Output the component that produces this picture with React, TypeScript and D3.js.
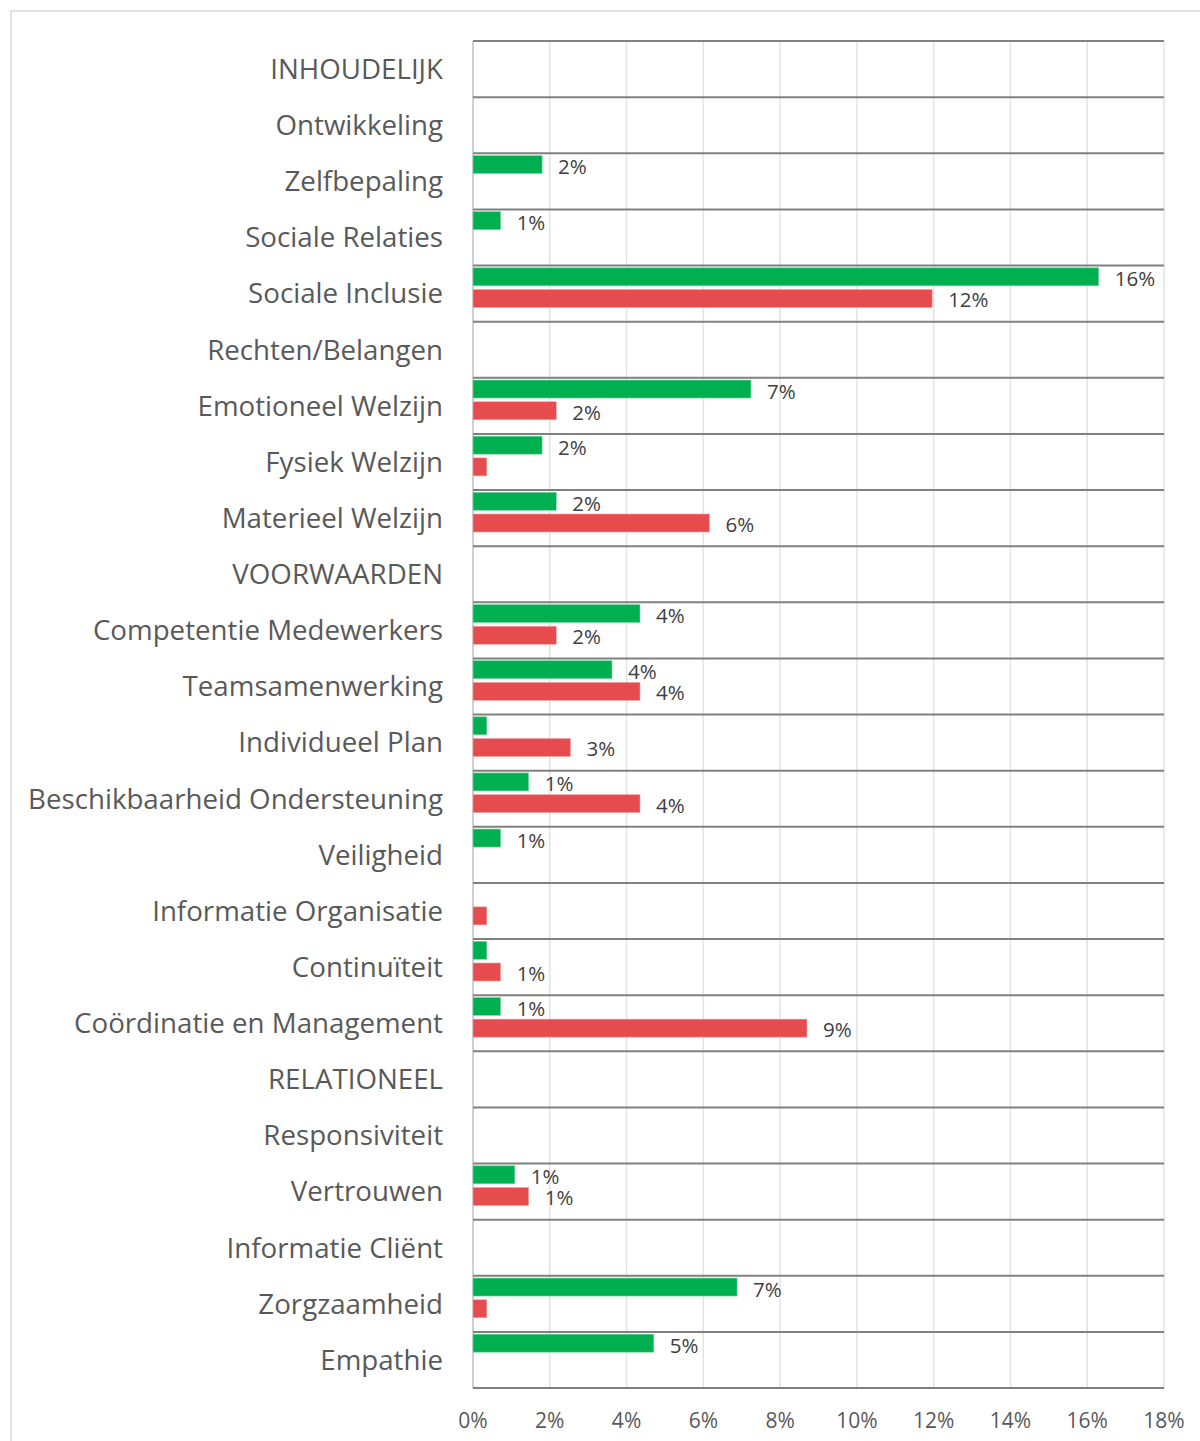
import React from "react";
import * as d3 from "d3";

const categories = [
  "INHOUDELIJK",
  "Ontwikkeling",
  "Zelfbepaling",
  "Sociale Relaties",
  "Sociale Inclusie",
  "Rechten/Belangen",
  "Emotioneel Welzijn",
  "Fysiek Welzijn",
  "Materieel Welzijn",
  "VOORWAARDEN",
  "Competentie Medewerkers",
  "Teamsamenwerking",
  "Individueel Plan",
  "Beschikbaarheid Ondersteuning",
  "Veiligheid",
  "Informatie Organisatie",
  "Continuïteit",
  "Coördinatie en Management",
  "RELATIONEEL",
  "Responsiviteit",
  "Vertrouwen",
  "Informatie Cliënt",
  "Zorgzaamheid",
  "Empathie",
];

// values in percent; null = no bar
const greenValues: (number | null)[] = [
  null, null, 1.8, 0.72, 16.3, null, 7.24, 1.8, 2.17, null,
  4.35, 3.62, 0.36, 1.45, 0.72, null, 0.36, 0.72, null, null,
  1.09, null, 6.88, 4.71,
];
const redValues: (number | null)[] = [
  null, null, null, null, 11.96, null, 2.17, 0.36, 6.16, null,
  2.17, 4.35, 2.54, 4.35, null, 0.36, 0.72, 8.7, null, null,
  1.45, null, 0.36, null,
];
// whether a bar shows its data label
const greenLabelShown = [
  false, false, true, true, true, false, true, true, true, false,
  true, true, false, true, true, false, false, true, false, false,
  true, false, true, true,
];
const redLabelShown = [
  false, false, false, false, true, false, true, false, true, false,
  true, true, true, true, false, false, true, true, false, false,
  true, false, false, false,
];
const xTicks = [0, 2, 4, 6, 8, 10, 12, 14, 16, 18];

const W = 1200;
const H = 1441;
const plotLeft = 473;
const plotRight = 1164;
const plotTop = 41;
const plotBottom = 1388;

const GREEN = "#00b050";
const RED = "#e64b4e";
const FONT = "'Open Sans', Lato, sans-serif";

export default function App() {
  const x = d3.scaleLinear().domain([0, 18]).range([plotLeft, plotRight]);
  const y = d3
    .scaleBand<string>()
    .domain(categories)
    .range([plotTop, plotBottom])
    .padding(0);
  const bw = y.bandwidth();
  const sub = d3
    .scaleBand<string>()
    .domain(["g", "r", "e"])
    .range([2.3, 63.7])
    .paddingInner(0.17);
  const fmt = (v: number) => `${Math.round(v)}%`;

  return (
    <svg
      width={W}
      height={H}
      style={{ position: "absolute", left: 0, top: 0, background: "#fff" }}
      fontFamily={FONT}
    >
      <rect x={0} y={0} width={W} height={H} fill="#fff" />
      <rect
        x={11}
        y={11}
        width={W + 20}
        height={H + 20}
        fill="none"
        stroke="#d9d9d9"
        strokeWidth={1.5}
      />
      {/* vertical gridlines */}
      {xTicks.map((t) => (
        <line
          key={"g" + t}
          x1={x(t)}
          x2={x(t)}
          y1={plotTop}
          y2={plotBottom}
          stroke={t === 0 ? "#d0d0d0" : "#e3e3e3"}
          strokeWidth={t === 0 ? 2 : 1.5}
        />
      ))}
      {/* row separators */}
      {d3.range(categories.length + 1).map((i) => {
        const yy = plotTop + i * bw;
        return (
          <line
            key={"h" + i}
            x1={plotLeft}
            x2={plotRight}
            y1={yy}
            y2={yy}
            stroke="#808080"
            strokeWidth={2}
          />
        );
      })}
      {/* bars */}
      {categories.map((c, i) => {
        const y0 = y(c)!;
        const g = greenValues[i];
        const r = redValues[i];
        const gy = y0 + sub("g")!;
        const ry = y0 + sub("r")!;
        const h = sub.bandwidth();
        return (
          <g key={"b" + i}>
            {g != null && (
              <rect
                x={x(0)}
                y={gy}
                width={x(g) - x(0)}
                height={h}
                fill={GREEN}
                stroke="#7fd8a7"
                strokeWidth={0.6}
              />
            )}
            {g != null && greenLabelShown[i] && (
              <text
                x={x(g) + 16}
                y={gy + h / 2 + 4}
                dominantBaseline="middle"
                fontSize={20.5}
                fill="#404040"
              >
                {fmt(g)}
              </text>
            )}
            {r != null && (
              <rect
                x={x(0)}
                y={ry}
                width={x(r) - x(0)}
                height={h}
                fill={RED}
                stroke="#f2a5a6"
                strokeWidth={0.6}
              />
            )}
            {r != null && redLabelShown[i] && (
              <text
                x={x(r) + 16}
                y={ry + h / 2 + 3.5}
                dominantBaseline="middle"
                fontSize={20.5}
                fill="#404040"
              >
                {fmt(r)}
              </text>
            )}
          </g>
        );
      })}
      {/* category labels */}
      {categories.map((c) => (
        <text
          key={"c" + c}
          x={443}
          y={y(c)! + bw / 2 + 2.5}
          textAnchor="end"
          dominantBaseline="middle"
          fontSize={27.7}
          fill="#595959"
        >
          {c}
        </text>
      ))}
      {/* x tick labels */}
      {xTicks.map((t) => (
        <text
          key={"t" + t}
          x={x(t)}
          y={1422}
          textAnchor="middle"
          dominantBaseline="middle"
          fontSize={21}
          fill="#595959"
        >
          {t}%
        </text>
      ))}
    </svg>
  );
}
